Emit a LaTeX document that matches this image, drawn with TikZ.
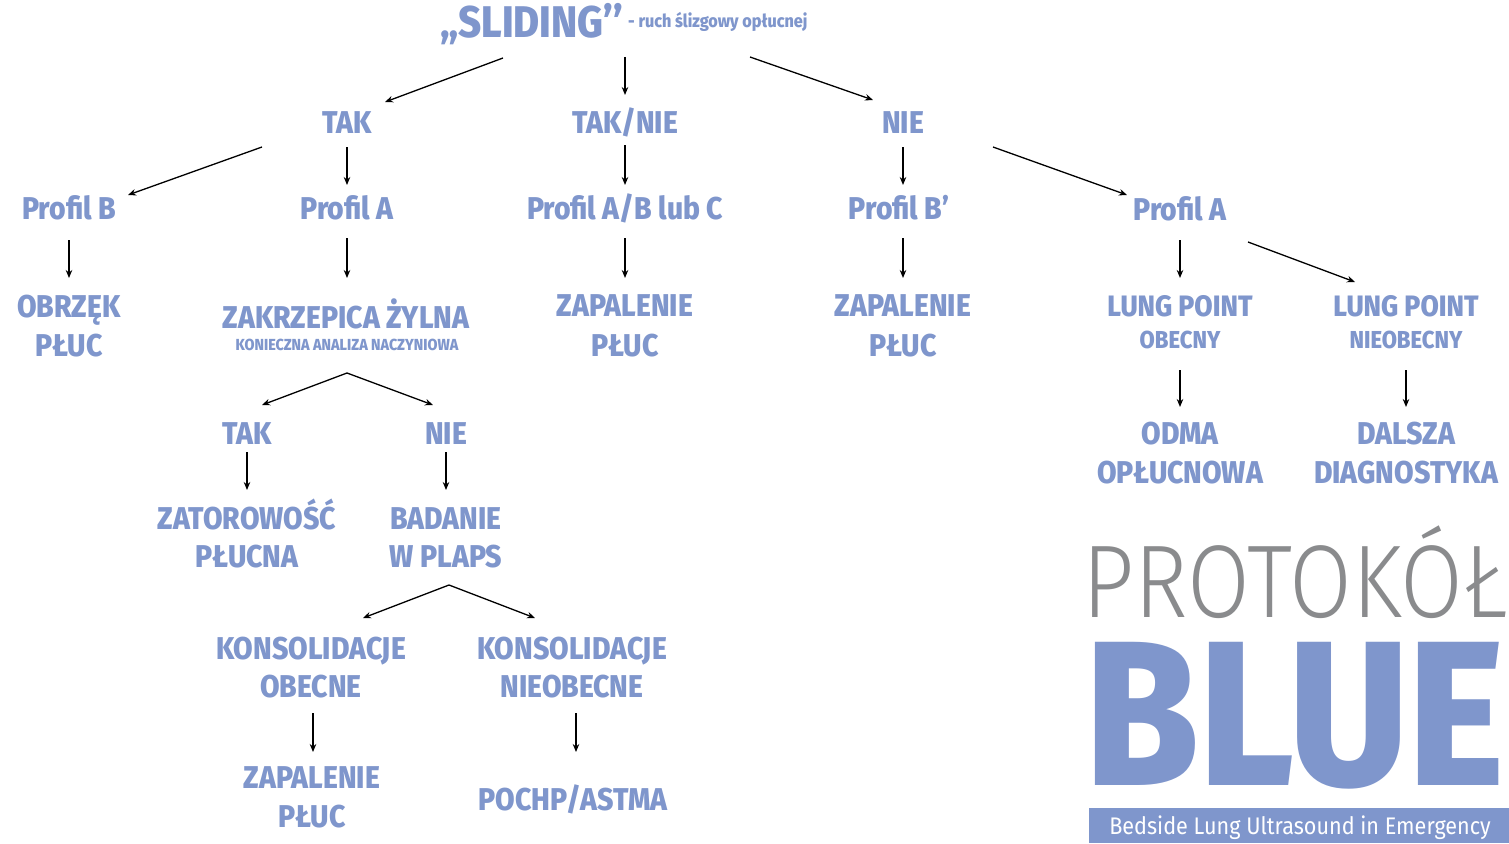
\documentclass[tikz,border=0pt]{standalone}
\usepackage{fontspec}
\usetikzlibrary{arrows.meta}
\IfFontExistsTF{Fira Sans ExtraBold}
  {\newfontfamily\lab{Fira Sans ExtraBold}[FakeStretch=0.9]}
  {\newfontfamily\lab{Fira Sans}[FakeStretch=0.9, FakeBold=2]}
\newfontfamily\thinf{Fira Sans Light}[FakeStretch=0.88]
\newfontfamily\barf{Fira Sans}[FakeStretch=0.9]
\definecolor{bl}{RGB}{127,150,204}
\definecolor{gr}{RGB}{138,139,141}
\begin{document}
\begin{tikzpicture}[x=1pt,y=-1pt,
  t/.style={text=bl, inner sep=0pt, font=\lab\fontsize{31.5}{31.5}\selectfont, text height=22pt, text depth=0pt},
  tm/.style={t, font=\lab\fontsize{29.5}{29.5}\selectfont, text height=20pt},
  ts/.style={t, font=\lab\fontsize{24.5}{24.5}\selectfont, text height=17pt},
  tx/.style={t, font=\lab\fontsize{16}{16}\selectfont, text height=11pt},
  ar/.style={-{Stealth[length=8pt,width=6.5pt]}, line width=1.3pt, black}]
\useasboundingbox (0,0) rectangle (1509,843);
% title
\node[t, text height=25pt] (title) at (531.5,25) {\resizebox{183pt}{!}{\lab\fontsize{35}{35}\selectfont „SLIDING’’}};
\node[text=bl, inner sep=0pt, font=\lab\fontsize{18}{18}\selectfont, anchor=base west] (sub) at (628,28) {- ruch ślizgowy opłucnej};
% row 1
\node[t] (tak1) at (347,122) {TAK};
\node[t] (taknie) at (625,122) {TAK/NIE};
\node[t] (nie1) at (903,122) {NIE};
% row 2
\node[t] (profB) at (69,208) {Profil B};
\node[t] (profA1) at (347,208) {Profil A};
\node[t] (profABC) at (625,208) {Profil A/B lub C};
\node[t] (profB2) at (899,208) {Profil B’};
\node[t] (profA2) at (1180,209) {Profil A};
% row 3
\node[t] (obrz1) at (69,306) {OBRZĘK};
\node[t] (obrz2) at (69,345) {PŁUC};
\node[t] (zak1) at (346,317) {ZAKRZEPICA ŻYLNA};
\node[tx] (zak2) at (347,345) {KONIECZNA ANALIZA NACZYNIOWA};
\node[t] (zapa1) at (625,305) {ZAPALENIE};
\node[t] (zapa2) at (625,345) {PŁUC};
\node[t] (zapb1) at (903,305) {ZAPALENIE};
\node[t] (zapb2) at (903,345) {PŁUC};
\node[tm] (lp1) at (1180,306) {LUNG POINT};
\node[ts] (lp1b) at (1180,340) {OBECNY};
\node[tm] (lp2) at (1406,306) {LUNG POINT};
\node[ts] (lp2b) at (1406,340) {NIEOBECNY};
% row 4
\node[t] (tak2) at (247,433) {TAK};
\node[t] (nie2) at (446,433) {NIE};
\node[t] (odma) at (1180,433) {ODMA};
\node[t] (opl) at (1180,472) {OPŁUCNOWA};
\node[t] (dalsza) at (1406,433) {DALSZA};
\node[t] (diag) at (1406,472) {DIAGNOSTYKA};
% row 5
\node[t] (zat) at (247,518) {ZATOROWOŚĆ};
\node[t] (plucna) at (247,556) {PŁUCNA};
\node[t] (bad) at (446,518) {BADANIE};
\node[t] (wplaps) at (446,556) {W PLAPS};
% row 6
\node[t] (kons1) at (311,648) {KONSOLIDACJE};
\node[t] (obecne) at (311,686) {OBECNE};
\node[t] (kons2) at (572,648) {KONSOLIDACJE};
\node[t] (nieob) at (572,686) {NIEOBECNE};
% row 7
\node[t] (zap3) at (312,777) {ZAPALENIE};
\node[t] (pluc3) at (312,816) {PŁUC};
\node[t] (pochp) at (573,799) {POCHP/ASTMA};
% logo
\node[inner sep=0pt, anchor=base, text=gr, text depth=0pt] (prot) at (1295.5,617) {\resizebox{425pt}{!}{\thinf\fontsize{100}{100}\selectfont PROTOKÓŁ}};
\node[inner sep=0pt, anchor=base, text=bl, text depth=0pt] (blue) at (1295,785) {\resizebox{418pt}{143pt}{\lab BLUE}};
\fill[bl] (1089,808) rectangle (1509,843);
\node[inner sep=0pt, text=white, font=\barf\fontsize{24}{24}\selectfont, text height=17pt, text depth=0pt] (bar) at (1300,826) {Bedside Lung Ultrasound in Emergency};
% connectors
\draw[ar] ([shift={(-28.5,33)}]title.center) -- ([shift={(38,-20)}]tak1.center);
\draw[ar] ([shift={(93.5,32)}]title.center) -- ([shift={(0,-27)}]taknie.center);
\draw[ar] ([shift={(218.5,32)}]title.center) -- ([shift={(-30,-22)}]nie1.center);
\draw[ar] ([shift={(-85,25)}]tak1.center) -- ([shift={(59,-13)}]profB.center);
\draw[ar] ([shift={(0,25)}]tak1.center) -- ([shift={(0,-23)}]profA1.center);
\draw[ar] ([shift={(0,23)}]taknie.center) -- ([shift={(0,-23)}]profABC.center);
\draw[ar] ([shift={(0,25)}]nie1.center) -- ([shift={(4,-23)}]profB2.center);
\draw[ar] ([shift={(90,25)}]nie1.center) -- ([shift={(-53,-14)}]profA2.center);
\draw[ar] ([shift={(0,32)}]profB.center) -- ([shift={(0,-28)}]obrz1.center);
\draw[ar] ([shift={(0,30)}]profA1.center) -- ([shift={(1,-39)}]zak1.center);
\draw[ar] ([shift={(0,30)}]profABC.center) -- ([shift={(0,-27)}]zapa1.center);
\draw[ar] ([shift={(4,30)}]profB2.center) -- ([shift={(0,-27)}]zapb1.center);
\draw[ar] ([shift={(0,31)}]profA2.center) -- ([shift={(0,-28)}]lp1.center);
\draw[ar] ([shift={(68,33)}]profA2.center) -- ([shift={(-51,-24)}]lp2.center);
\draw[ar] ([shift={(0,28)}]zak2.center) -- ([shift={(15,-28)}]tak2.center);
\draw[ar] ([shift={(0,28)}]zak2.center) -- ([shift={(-13,-28)}]nie2.center);
\draw[ar] ([shift={(0,19)}]tak2.center) -- ([shift={(0,-28)}]zat.center);
\draw[ar] ([shift={(0,19)}]nie2.center) -- ([shift={(0,-28)}]bad.center);
\draw[ar] ([shift={(3,29)}]wplaps.center) -- ([shift={(52,-30)}]kons1.center);
\draw[ar] ([shift={(3,29)}]wplaps.center) -- ([shift={(-37,-30)}]kons2.center);
\draw[ar] ([shift={(2,27)}]obecne.center) -- ([shift={(1,-25)}]zap3.center);
\draw[ar] ([shift={(4,27)}]nieob.center) -- ([shift={(3,-47)}]pochp.center);
\draw[ar] ([shift={(0,30)}]lp1b.center) -- ([shift={(0,-26)}]odma.center);
\draw[ar] ([shift={(0,30)}]lp2b.center) -- ([shift={(0,-26)}]dalsza.center);
\end{tikzpicture}
\end{document}
